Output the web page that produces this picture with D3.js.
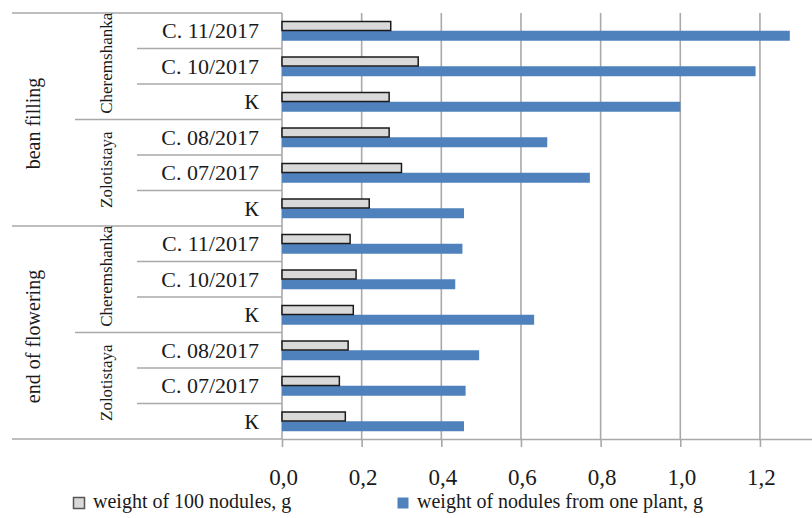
<!DOCTYPE html>
<html>
<head>
<meta charset="utf-8">
<script src="https://cdn.jsdelivr.net/npm/d3@7"></script>
<style>
  html, body { margin: 0; padding: 0; background: #fff; }
  svg { display: block; }
  svg text { font-family: "Liberation Serif", Tinos, "Times New Roman", "DejaVu Serif", serif; fill: #1a1a1a; }
</style>
</head>
<body>
<svg id="chart" width="812" height="518"></svg>
<script>
// Treatments, top to bottom
const categories = [
  "С. 11/2017", "С. 10/2017", "К", "С. 08/2017", "С. 07/2017", "К",
  "С. 11/2017", "С. 10/2017", "К", "С. 08/2017", "С. 07/2017", "К"
];
const varieties = [
  "Cheremshanka", "Cheremshanka", "Cheremshanka", "Zolotistaya", "Zolotistaya", "Zolotistaya",
  "Cheremshanka", "Cheremshanka", "Cheremshanka", "Zolotistaya", "Zolotistaya", "Zolotistaya"
];
const stages = [
  "bean filling", "bean filling", "bean filling", "bean filling", "bean filling", "bean filling",
  "end of flowering", "end of flowering", "end of flowering", "end of flowering", "end of flowering", "end of flowering"
];
// weight of 100 nodules, g
const weight100 = [0.273, 0.342, 0.269, 0.269, 0.300, 0.219, 0.171, 0.186, 0.179, 0.166, 0.144, 0.159];
// weight of nodules from one plant, g
const weightPlant = [1.275, 1.189, 1.000, 0.666, 0.773, 0.457, 0.453, 0.435, 0.633, 0.495, 0.461, 0.457];
const seriesNames = ["weight of 100 nodules, g", "weight of nodules from one plant, g"];
const tickValues = [0, 0.2, 0.4, 0.6, 0.8, 1.0, 1.2];

const FONT = '"Liberation Serif", Tinos, "Times New Roman", "DejaVu Serif", serif';
const svg = d3.select("#chart");
const plotTop = 13, plotBottom = 439, plotLeft = 282;
const gridColor = "#a9a9a9";
const grayFill = "#d9d9d9", blue = "#4f81bd";

const x = d3.scaleLinear().domain([0, 1.4]).range([plotLeft, plotLeft + 557.6]);
const rows = d3.range(categories.length);
const y = d3.scaleBand().domain(rows).range([plotTop, plotBottom]).paddingInner(0.437).paddingOuter(0.2185);
const ySub = d3.scaleBand().domain([0, 1]).range([0, y.bandwidth()]);
const step = y.step();
const rowTop = i => plotTop + i * step;

// vertical gridlines
svg.append("g").selectAll("line").data(tickValues.slice(1)).join("line")
  .attr("x1", d => x(d)).attr("x2", d => x(d))
  .attr("y1", plotTop).attr("y2", plotBottom)
  .attr("stroke", gridColor).attr("stroke-width", 1.6);

// bottom axis
const axis = svg.append("g").attr("transform", `translate(0,${plotBottom})`)
  .call(d3.axisBottom(x).tickValues(tickValues).tickSize(8).tickSizeOuter(0)
    .tickFormat(d => d3.format(".1f")(d).replace(".", ",")));
axis.attr("font-family", FONT).attr("font-size", 23);
axis.select(".domain").attr("stroke", gridColor).attr("stroke-width", 1.6);
axis.selectAll(".tick line").attr("stroke", gridColor).attr("stroke-width", 1.6);
axis.selectAll(".tick text")
  .attr("y", 46).attr("dy", 0).attr("dx", 1)
  .style("font-family", FONT)
  .style("font-size", "23px").attr("fill", "#1a1a1a");
// axis line continues across the label area
svg.append("line").attr("x1", 12).attr("x2", plotLeft).attr("y1", plotBottom).attr("y2", plotBottom)
  .attr("stroke", gridColor).attr("stroke-width", 1.6);

// vertical axis line
svg.append("line").attr("x1", plotLeft).attr("x2", plotLeft).attr("y1", plotTop).attr("y2", plotBottom)
  .attr("stroke", gridColor).attr("stroke-width", 1.6);

// hierarchical separators in the label area
const seps = [];
rows.forEach(i => {
  if (i === 0) { seps.push({ y: rowTop(i), x1: 12 }); return; }
  if (stages[i] !== stages[i - 1]) seps.push({ y: rowTop(i), x1: 12 });
  else if (varieties[i] !== varieties[i - 1]) seps.push({ y: rowTop(i), x1: 75 });
  else seps.push({ y: rowTop(i), x1: 137 });
});
svg.append("g").selectAll("line").data(seps).join("line")
  .attr("x1", d => d.x1).attr("x2", plotLeft)
  .attr("y1", d => d.y).attr("y2", d => d.y)
  .attr("stroke", gridColor).attr("stroke-width", 1.6);

// bars
const barG = svg.append("g");
barG.selectAll("rect.plant").data(rows).join("rect").attr("class", "plant")
  .attr("x", x(0)).attr("y", i => y(i) + ySub(1))
  .attr("width", i => x(weightPlant[i]) - x(0)).attr("height", ySub.bandwidth())
  .attr("fill", blue);
barG.selectAll("rect.n100").data(rows).join("rect").attr("class", "n100")
  .attr("x", x(0)).attr("y", i => y(i) + ySub(0) + 0.75)
  .attr("width", i => x(weight100[i]) - x(0)).attr("height", ySub.bandwidth() - 1)
  .attr("fill", grayFill).attr("stroke", "#1a1a1a").attr("stroke-width", 1.5);

// treatment labels
svg.append("g").selectAll("text").data(rows).join("text")
  .attr("x", 259).attr("y", i => y(i) + y.bandwidth() / 2 + 7.5)
  .attr("text-anchor", "end").style("font-family", FONT).style("font-size", "22px")
  .text(i => categories[i]);

// variety labels (rotated)
const varGroups = [];
rows.forEach(i => {
  const key = stages[i] + "|" + varieties[i];
  const last = varGroups[varGroups.length - 1];
  if (last && last.key === key) last.end = i;
  else varGroups.push({ key, name: varieties[i], start: i, end: i });
});
svg.append("g").selectAll("text").data(varGroups).join("text")
  .attr("transform", d => `translate(112,${(rowTop(d.start) + rowTop(d.end + 1)) / 2 - 3}) rotate(-90)`)
  .attr("text-anchor", "middle").style("font-family", FONT).style("font-size", "17px")
  .text(d => d.name);

// stage labels (rotated)
const stageGroups = [];
rows.forEach(i => {
  const last = stageGroups[stageGroups.length - 1];
  if (last && last.name === stages[i]) last.end = i;
  else stageGroups.push({ name: stages[i], start: i, end: i });
});
svg.append("g").selectAll("text").data(stageGroups).join("text")
  .attr("transform", d => `translate(39.5,${(rowTop(d.start) + rowTop(d.end + 1)) / 2 + 4}) rotate(-90)`)
  .attr("text-anchor", "middle").style("font-family", FONT).style("font-size", "20px")
  .text(d => d.name);

// legend
const legend = svg.append("g");
const legendItems = [
  { name: seriesNames[0], x: 73, fill: grayFill, stroke: "#555" },
  { name: seriesNames[1], x: 397, fill: blue, stroke: "none" }
];
legendItems.forEach(d => {
  legend.append("rect").attr("x", d.x + 0.5).attr("y", 497.5).attr("width", 11).attr("height", 11)
    .attr("fill", d.fill).attr("stroke", d.stroke).attr("stroke-width", d.stroke === "none" ? 0 : 1.5);
  legend.append("text").attr("x", d.x + 20).attr("y", 508)
    .style("font-family", FONT).style("font-size", "20px").text(d.name);
});
</script>
</body>
</html>
